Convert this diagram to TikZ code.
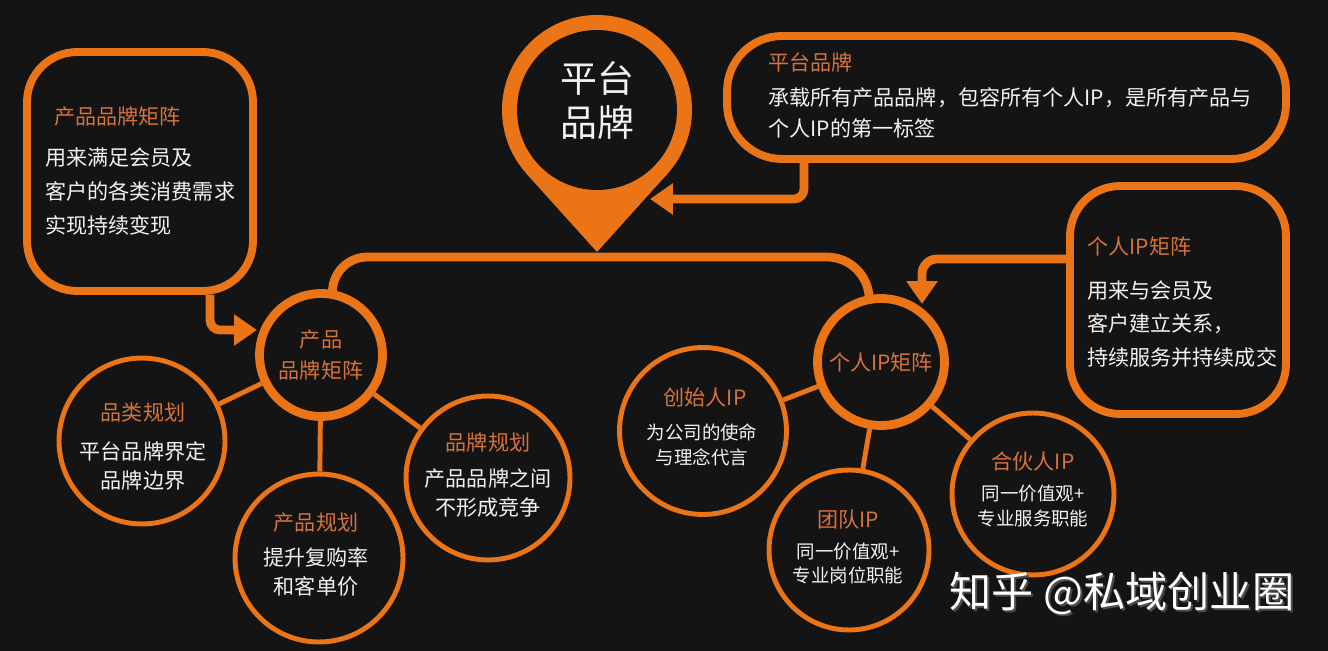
\documentclass[tikz,border=0pt]{standalone}
\usepackage{fontspec}
\setmainfont{Noto Sans CJK SC}
\usetikzlibrary{arrows.meta}
\definecolor{bg}{HTML}{141414}
\definecolor{org}{HTML}{EA7416}
\definecolor{ttl}{HTML}{D6733B}
\definecolor{wt}{HTML}{F2F2F2}
\begin{document}
\begin{tikzpicture}[x=0.02cm,y=-0.02cm,
  bigring/.style={circle,draw=org,line width=5pt,fill=bg,inner sep=0pt,text=ttl,align=center,font=\fontsize{12}{17.6}\selectfont},
  ring/.style={circle,draw=org,line width=2.8pt,fill=bg,inner sep=0pt},
  infobox/.style={rectangle,draw=org,line width=4.5pt,fill=bg,inner sep=0pt},
  thickconn/.style={draw=org,line width=5pt},
  thinconn/.style={draw=org,line width=2.8pt},
  arrowconn/.style={draw=org,line width=5pt,-{Triangle[width=17pt,length=13pt]}},
  ttltext/.style={text=ttl,inner sep=0pt,font=\fontsize{12}{17}\selectfont},
  bodytext/.style={text=wt,inner sep=0pt,align=center,font=\fontsize{12}{17}\selectfont},
  smalltext/.style={text=wt,inner sep=0pt,align=center,font=\fontsize{10.5}{14.2}\selectfont},
  boxtext/.style={text=wt,inner sep=0pt,align=left,anchor=west}
]
\useasboundingbox (0,0) rectangle (1328,651);
\fill[bg] (0,0) rectangle (1328,651);

% ---- pin "平台品牌"
\fill[org] (597,110) circle (95);
\fill[org] (597,252) -- (667.6,173.6) -- (526.4,173.6) -- cycle;
\node[circle,fill=bg,minimum size=3.2cm,inner sep=0pt] (pin) at (597,110) {};
\node[text=wt,inner sep=0pt,align=center,font=\fontsize{21}{25}\selectfont] (pintxt) at (597,100) {平台\\品牌};

% ---- info boxes
\node[infobox,minimum width=11.18cm,minimum height=2.46cm,rounded corners=1.1cm] (tb) at (1006.5,97.5) {};
\node[ttltext,anchor=west] (tbt) at (768,62) {平台品牌};
\node[boxtext,font=\fontsize{12}{17.6}\selectfont] (tbb) at (768,112.5) {承载所有产品品牌，包容所有个人IP，是所有产品与\\个人IP的第一标签};

\node[infobox,minimum width=4.52cm,minimum height=4.78cm,rounded corners=1cm] (lb) at (140,171.5) {};
\node[ttltext,anchor=west] (lbt) at (54,117) {产品品牌矩阵};
\node[boxtext,font=\fontsize{12}{19.5}\selectfont] (lbb) at (45,191.5) {用来满足会员及\\客户的各类消费需求\\实现持续变现};

\node[infobox,minimum width=4.32cm,minimum height=4.56cm,rounded corners=1cm] (rb) at (1178,300) {};
\node[ttltext,anchor=west] (rbt) at (1087,246) {个人IP矩阵};
\node[boxtext,font=\fontsize{12}{19.3}\selectfont] (rbb) at (1087,324) {用来与会员及\\客户建立关系，\\持续服务并持续成交};

% ---- matrix hubs
\node[bigring,minimum size=2.46cm] (pm) at (321,355) {产品\\品牌矩阵};
\node[bigring,minimum size=2.54cm] (ip) at (881,362) {个人IP矩阵};

% ---- bar from the pin to both hubs
\coordinate (bar) at (597,257);
\draw[thickconn,rounded corners=0.7cm] (pm.80) |- (bar);
\draw[thickconn,rounded corners=0.85cm] (bar) -| (ip.100);

% ---- arrows from the boxes
\coordinate (tbx) at (804,0);
\coordinate (a1e) at (650,199);
\draw[arrowconn,rounded corners=0.2cm] (tb.south -| tbx) |- (a1e);
\coordinate (lbx) at (210,0);
\coordinate (a2e) at (257,330);
\draw[arrowconn,rounded corners=0.2cm] (lb.south -| lbx) |- (a2e);
\coordinate (rby) at (0,259);
\coordinate (a3e) at (922,304);
\draw[arrowconn,rounded corners=0.3cm] (rb.west |- rby) -| (a3e);

% ---- product side circles
\node[ring,minimum size=3.32cm] (c1) at (142,441) {};
\node[ring,minimum size=3.36cm] (c2) at (319,558) {};
\node[ring,minimum size=3.28cm] (c3) at (488,478) {};
\draw[thinconn] (pm) -- (c1);
\draw[thinconn] (pm) -- (c2);
\draw[thinconn] (pm) -- (c3);
\node[ttltext] (c1t) at (143,413) {品类规划};
\node[bodytext] (c1b) at (143,466) {平台品牌界定\\品牌边界};
\node[ttltext] (c2t) at (316,523) {产品规划};
\node[bodytext] (c2b) at (316,572) {提升复购率\\和客单价};
\node[ttltext] (c3t) at (488,442) {品牌规划};
\node[bodytext] (c3b) at (488,493) {产品品牌之间\\不形成竞争};

% ---- IP side circles
\node[ring,minimum size=3.34cm] (d1) at (703,431) {};
\node[ring,minimum size=3.2cm] (d2) at (849,550) {};
\node[ring,minimum size=3.24cm] (d3) at (1033,494) {};
\draw[thinconn] (ip) -- (d1);
\draw[thinconn] (ip) -- (d2);
\draw[thinconn] (ip) -- (d3);
\node[ttltext] (d1t) at (705,397) {创始人IP};
\node[smalltext] (d1b) at (702,444.5) {为公司的使命\\与理念代言};
\node[ttltext] (d2t) at (848,520) {团队IP};
\node[smalltext] (d2b) at (848,563.5) {同一价值观+\\专业岗位职能};
\node[ttltext] (d3t) at (1033,461) {合伙人IP};
\node[smalltext] (d3b) at (1033,506) {同一价值观+\\专业服务职能};

% ---- watermark
\node[text=black!70,inner sep=0pt,font=\fontsize{24}{28}\selectfont] (wms) at (1124,595) {知乎 @私域创业圈};
\node[text=white,inner sep=0pt,font=\fontsize{24}{28}\selectfont] (wm) at (1122,593) {知乎 @私域创业圈};
\end{tikzpicture}
\end{document}
